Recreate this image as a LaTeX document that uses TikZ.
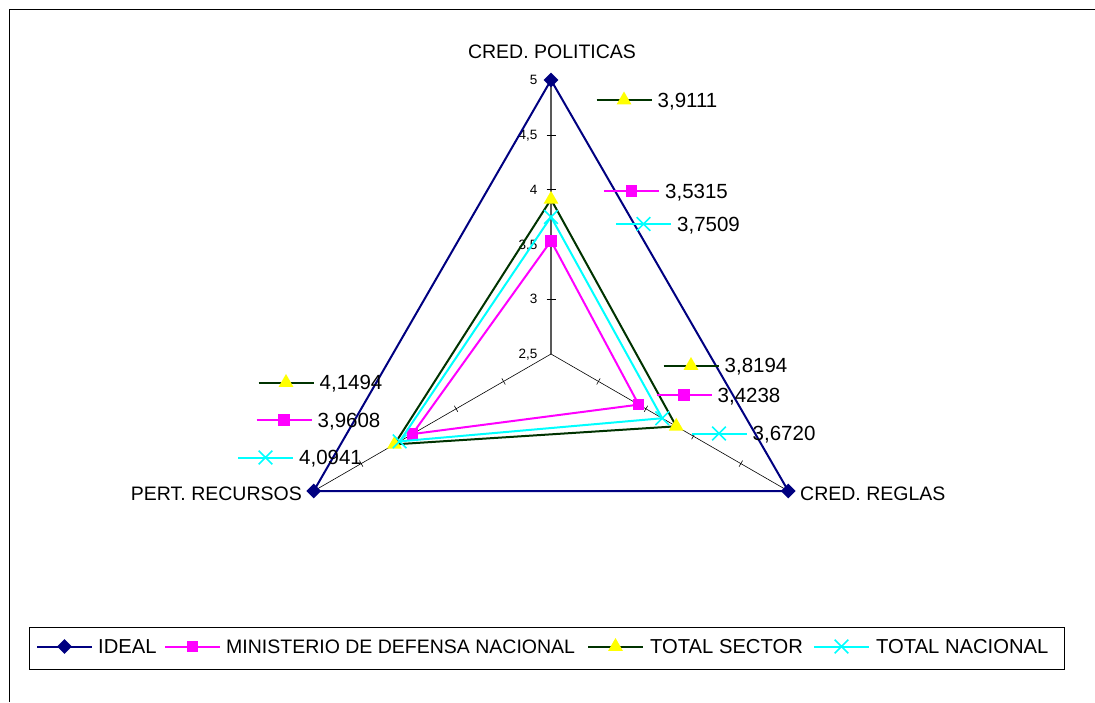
\documentclass[tikz,border=0pt]{standalone}
\usepackage{fontspec}
\setmainfont{Liberation Sans}
\usetikzlibrary{shapes.geometric,shapes.misc,calc}
\definecolor{navy}{HTML}{000080}
\definecolor{mag}{HTML}{FF00FF}
\definecolor{dgreen}{HTML}{003300}
\definecolor{yel}{HTML}{FFFF00}
\definecolor{cy}{HTML}{00FFFF}
\newcommand\setpts[4]{%
  \coordinate (#1a) at (551,{354-(#2-2.5)*109.6});
  \coordinate (#1b) at ({551+(#3-2.5)*109.6*0.8660254},{354+(#3-2.5)*109.6*0.5});
  \coordinate (#1c) at ({551-(#4-2.5)*109.6*0.8660254},{354+(#4-2.5)*109.6*0.5});}
\newcommand\dlab[6]{%
  \coordinate (#1l) at ({#2-27.5},#3);
  \coordinate (#1r) at ({#2+27.5},#3);
  \draw[#4] (#1l) -- (#1r);
  \node[#5] (#1m) at (#2,#3) {};
  \node[vlbl] (#1t) at ({#2+33.5},#3) {#6};}
\begin{document}
\begin{tikzpicture}[x=1pt,y=-1pt,
  ideal/.style={draw=navy,line width=2pt},
  mins/.style={draw=mag,line width=2pt},
  tsec/.style={draw=dgreen,line width=2pt},
  tnac/.style={draw=cy,line width=2pt},
  dmark/.style={diamond,fill=navy,minimum size=15pt,inner sep=0pt},
  smark/.style={rectangle,fill=mag,minimum size=11.5pt,inner sep=0pt},
  tmark/.style={regular polygon,regular polygon sides=3,fill=yel,minimum size=17pt,inner sep=0pt},
  xmark/.style={cross out,draw=cy,line width=1.6pt,minimum size=12pt,inner sep=0pt},
  lbl/.style={font=\fontsize{19.5}{20}\selectfont,inner sep=0pt,text depth=0pt},
  wlbl/.style={font=\fontsize{20.2}{21}\selectfont,inner sep=0pt,text depth=0pt},
  vlbl/.style={font=\fontsize{20.5}{21}\selectfont,inner sep=0pt,text depth=0pt,anchor=west},
  tlbl/.style={font=\fontsize{13.5}{14}\selectfont,inner sep=0pt,text depth=0pt,anchor=east},
  ticks/.style={line width=0.6pt,black},
]
\useasboundingbox (0,0) rectangle (1095,702);
% frame
\draw[line width=1pt] (9,702) -- (9,9) -- (1095,9);
% axes
\coordinate (C) at (551,354);
\setpts{A}{5}{5}{5}
\draw[gray!70!black,line width=1.2pt] (C) -- (Aa);
\draw[black,line width=0.6pt] (C) -- (Ab);
\draw[black,line width=0.6pt] (C) -- (Ac);
% ticks
\foreach \v in {3,3.5,4,4.5}{
  \pgfmathsetmacro\r{(\v-2.5)*109.6}
  \draw[ticks] (546.5,{354-\r}) -- (555.5,{354-\r});
  \draw[ticks] ({551+0.8660254*\r+1.75},{354+0.5*\r-3.03}) -- ({551+0.8660254*\r-1.75},{354+0.5*\r+3.03});
  \draw[ticks] ({551-0.8660254*\r-1.75},{354+0.5*\r-3.03}) -- ({551-0.8660254*\r+1.75},{354+0.5*\r+3.03});
}
% tick labels
\foreach \v/\t [count=\i] in {2.5/{2,5},3/3,3.5/{3,5},4/4,4.5/{4,5},5/5}{
  \node[tlbl] (tl\i) at (537.5,{354-(\v-2.5)*109.6}) {\t};
}
% category labels
\node[lbl] (lp) at (552,52) {CRED. POLITICAS};
\node[lbl,anchor=west] (lr) at (800,493.5) {CRED. REGLAS};
\node[lbl,anchor=east] (ll) at (302,493.5) {PERT. RECURSOS};
% IDEAL
\draw[ideal] (Aa) -- (Ab) -- (Ac) -- cycle;
\node[dmark] (ia) at (Aa) {};
\node[dmark] (ib) at (Ab) {};
\node[dmark] (ic) at (Ac) {};
% MINISTERIO
\setpts{M}{3.5315}{3.4238}{3.9608}
\draw[mins] (Ma) -- (Mb) -- (Mc) -- cycle;
\node[smark] (ma) at (Ma) {};
\node[smark] (mb) at (Mb) {};
\node[smark] (mc) at (Mc) {};
% TOTAL SECTOR
\setpts{S}{3.9111}{3.8194}{4.1494}
\draw[tsec] (Sa) -- (Sb) -- (Sc) -- cycle;
\node[tmark] (sa) at (Sa) {};
\node[tmark] (sb) at (Sb) {};
\node[tmark] (sc) at (Sc) {};
% TOTAL NACIONAL
\setpts{N}{3.7509}{3.6720}{4.0941}
\draw[tnac] (Na) -- (Nb) -- (Nc) -- cycle;
\node[xmark] (na) at (Na) {};
\node[xmark] (nb) at (Nb) {};
\node[xmark] (nc) at (Nc) {};
% data labels
\dlab{d1}{624}{100}{tsec}{tmark}{3,9111}
\dlab{d2}{631.5}{191}{mins}{smark}{3,5315}
\dlab{d3}{643.5}{224}{tnac}{xmark}{3,7509}
\dlab{d4}{691}{365.5}{tsec}{tmark}{3,8194}
\dlab{d5}{684}{395}{mins}{smark}{3,4238}
\dlab{d6}{719}{433.5}{tnac}{xmark}{3,6720}
\dlab{d7}{286}{382.5}{tsec}{tmark}{4,1494}
\dlab{d8}{284}{420}{mins}{smark}{3,9608}
\dlab{d9}{265.5}{457.5}{tnac}{xmark}{4,0941}
% legend
\node[draw=black,line width=1pt,minimum width=1035pt,minimum height=42pt,inner sep=0pt] (leg) at (546.5,648) {};
\coordinate (k1l) at (37,646.5); \coordinate (k1r) at (92,646.5);
\draw[ideal] (k1l) -- (k1r);
\node[dmark] (k1m) at (64.5,646.5) {};
\node[wlbl,anchor=west] (k1t) at (98,646.5) {IDEAL};
\coordinate (k2l) at (165,646.5); \coordinate (k2r) at (220,646.5);
\draw[mins] (k2l) -- (k2r);
\node[smark] (k2m) at (192.5,646.5) {};
\node[lbl,anchor=west] (k2t) at (226,646.5) {MINISTERIO DE DEFENSA NACIONAL};
\coordinate (k3l) at (588,646.5); \coordinate (k3r) at (643,646.5);
\draw[tsec] (k3l) -- (k3r);
\node[tmark] (k3m) at (615.5,646.5) {};
\node[wlbl,anchor=west] (k3t) at (650,646.5) {TOTAL SECTOR};
\coordinate (k4l) at (814,646.5); \coordinate (k4r) at (869,646.5);
\draw[tnac] (k4l) -- (k4r);
\node[xmark] (k4m) at (841.5,646.5) {};
\node[wlbl,anchor=west] (k4t) at (876,646.5) {TOTAL NACIONAL};
\end{tikzpicture}
\end{document}
